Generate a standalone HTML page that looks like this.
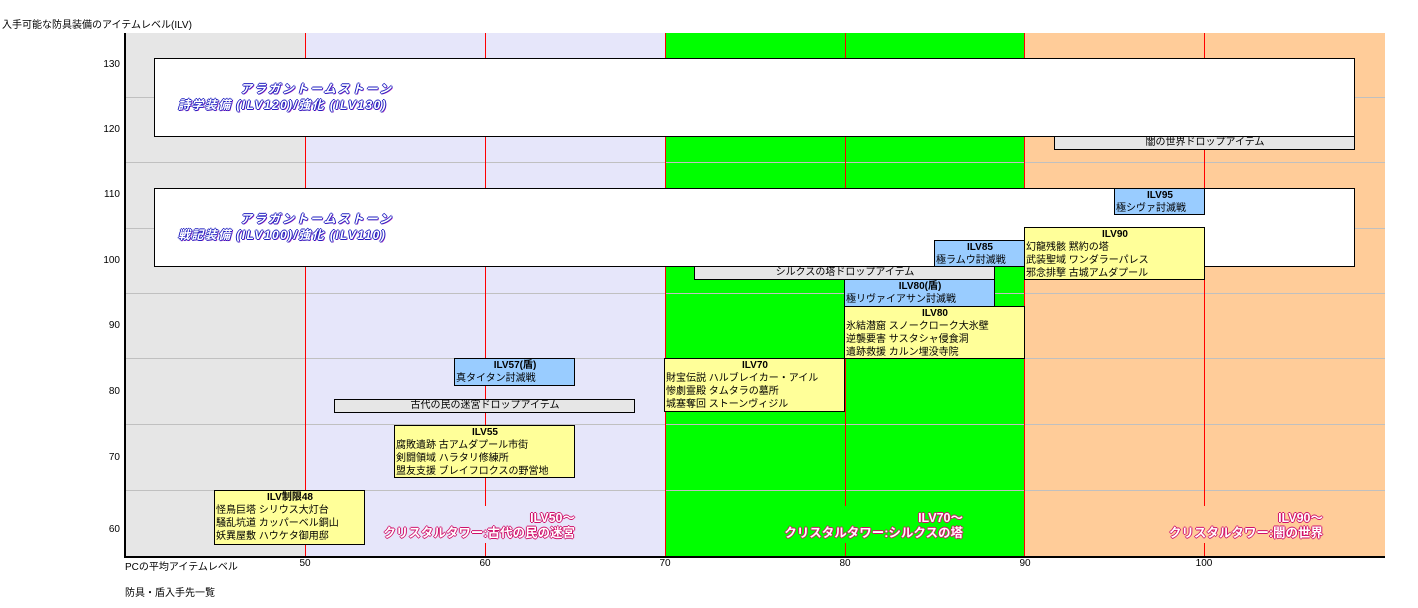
<!DOCTYPE html><html><head><meta charset="utf-8"><style>
body{margin:0;width:1418px;height:608px;background:#fff;position:relative;overflow:hidden;font-family:"Liberation Sans","Noto Sans CJK JP",sans-serif;font-size:10px;color:#000}
div{position:absolute;box-sizing:border-box}
.bx{border:1px solid #000;line-height:13px;padding-left:1px;white-space:nowrap}
.y{background:#ffff99}.b{background:#99ccff}.g{background:#e6e6e6;text-align:center;line-height:11px}
.t{font-weight:bold;text-align:center;display:block}
.rl{border-left:1px solid #ff0000;width:0}
.hl{background:#c0c0c0;height:1px;left:125px;width:1260px}
.lab{color:#fff;font-weight:bold;font-size:12.5px;line-height:15px;text-align:right;white-space:nowrap;text-shadow:1px 0 #d0106a,-1px 0 #d0106a,0 1px #d0106a,0 -1px #d0106a}
.ar{color:#fff;font-style:italic;font-weight:bold;font-size:12px;line-height:15px;white-space:nowrap;text-shadow:1px 0 #2020c0,-1px 0 #2020c0,0 1px #2020c0,0 -1px #2020c0,1px 1px #c030c0}
.yt{left:90px;width:30px;text-align:right}
.xt{top:558px;width:30px;text-align:center}
</style></head><body>
<div style="left:2px;top:16px">入手可能な防具装備のアイテムレベル(ILV)</div>
<div style="left:125px;top:33px;width:180px;height:523px;background:#e6e6e6"></div>
<div style="left:305px;top:33px;width:360px;height:523px;background:#e6e6fa"></div>
<div style="left:665px;top:33px;width:360px;height:523px;background:#00ff00"></div>
<div style="left:1025px;top:33px;width:360px;height:523px;background:#ffcc99"></div>
<div class="hl" style="top:97px"></div><div class="hl" style="top:162px"></div><div class="hl" style="top:228px"></div><div class="hl" style="top:293px"></div><div class="hl" style="top:358px"></div><div class="hl" style="top:424px"></div><div class="hl" style="top:490px"></div>
<div class="rl" style="left:305px;top:33px;height:523px"></div>
<div class="rl" style="left:665px;top:33px;height:523px"></div>
<div class="rl" style="left:1024px;top:33px;height:523px"></div>
<div class="rl" style="left:485px;top:33px;height:473px"></div><div class="rl" style="left:485px;top:543px;height:13px"></div>
<div class="rl" style="left:845px;top:33px;height:473px"></div><div class="rl" style="left:845px;top:543px;height:13px"></div>
<div class="rl" style="left:1204px;top:33px;height:473px"></div><div class="rl" style="left:1204px;top:543px;height:13px"></div>
<div style="left:124px;top:33px;width:2px;height:525px;background:#000"></div>
<div style="left:124px;top:556px;width:1261px;height:2px;background:#000"></div>
<div class="yt" style="top:59px">130</div><div class="yt" style="top:124px">120</div><div class="yt" style="top:189px">110</div><div class="yt" style="top:255px">100</div><div class="yt" style="top:320px">90</div><div class="yt" style="top:386px">80</div><div class="yt" style="top:452px">70</div><div class="yt" style="top:524px">60</div>
<div style="left:125px;top:558px">PCの平均アイテムレベル</div>
<div class="xt" style="left:290px">50</div><div class="xt" style="left:470px">60</div><div class="xt" style="left:650px">70</div><div class="xt" style="left:830px">80</div><div class="xt" style="left:1010px">90</div><div class="xt" style="left:1189px">100</div>
<div style="left:125px;top:584px">防具・盾入手先一覧</div>

<div class="bx" style="left:154px;top:58px;width:1201px;height:79px;background:#fff"></div>
<div class="ar" style="left:240px;top:82px;letter-spacing:2px">アラガントームストーン</div>
<div class="ar" style="left:178px;top:98px;letter-spacing:1.4px">詩学装備 (ILV120)/強化 (ILV130)</div>
<div class="bx g" style="left:1054px;top:136px;width:301px;height:14px">闇の世界ドロップアイテム</div>
<div class="bx" style="left:154px;top:188px;width:1201px;height:79px;background:#fff"></div>
<div class="ar" style="left:240px;top:212px;letter-spacing:2px">アラガントームストーン</div>
<div class="ar" style="left:178px;top:228px;letter-spacing:1.4px">戦記装備 (ILV100)/強化 (ILV110)</div>
<div class="bx b" style="left:1114px;top:188px;width:91px;height:27px"><span class="t">ILV95</span>極シヴァ討滅戦</div>
<div class="bx y" style="left:1024px;top:227px;width:181px;height:53px"><span class="t">ILV90</span>幻龍残骸 黙約の塔<br>武装聖域 ワンダラーパレス<br>邪念排撃 古城アムダプール</div>
<div class="bx b" style="left:934px;top:240px;width:91px;height:27px"><span class="t">ILV85</span>極ラムウ討滅戦</div>
<div class="bx g" style="left:694px;top:266px;width:301px;height:14px">シルクスの塔ドロップアイテム</div>
<div class="bx b" style="left:844px;top:279px;width:151px;height:28px"><span class="t">ILV80(盾)</span>極リヴァイアサン討滅戦</div>
<div class="bx y" style="left:844px;top:306px;width:181px;height:53px"><span class="t">ILV80</span>氷結潜窟 スノークローク大氷壁<br>逆襲要害 サスタシャ侵食洞<br>遺跡救援 カルン埋没寺院</div>
<div class="bx b" style="left:454px;top:358px;width:121px;height:28px"><span class="t">ILV57(盾)</span>真タイタン討滅戦</div>
<div class="bx y" style="left:664px;top:358px;width:181px;height:54px"><span class="t">ILV70</span>財宝伝説 ハルブレイカー・アイル<br>惨劇霊殿 タムタラの墓所<br>城塞奪回 ストーンヴィジル</div>
<div class="bx g" style="left:334px;top:399px;width:301px;height:14px">古代の民の迷宮ドロップアイテム</div>
<div class="bx y" style="left:394px;top:425px;width:181px;height:53px"><span class="t">ILV55</span>腐敗遺跡 古アムダプール市街<br>剣闘領域 ハラタリ修練所<br>盟友支援 ブレイフロクスの野営地</div>
<div class="bx y" style="left:214px;top:490px;width:151px;height:55px"><span class="t">ILV制限48</span>怪鳥巨塔 シリウス大灯台<br>騒乱坑道 カッパーベル銅山<br>妖異屋敷 ハウケタ御用邸</div>

<div class="lab" style="left:300px;top:511px;width:275px">ILV50～<br>クリスタルタワー:古代の民の迷宮</div>
<div class="lab" style="left:690px;top:511px;width:273px">ILV70～<br>クリスタルタワー:シルクスの塔</div>
<div class="lab" style="left:1050px;top:511px;width:273px">ILV90～<br>クリスタルタワー:闇の世界</div>
</body></html>
